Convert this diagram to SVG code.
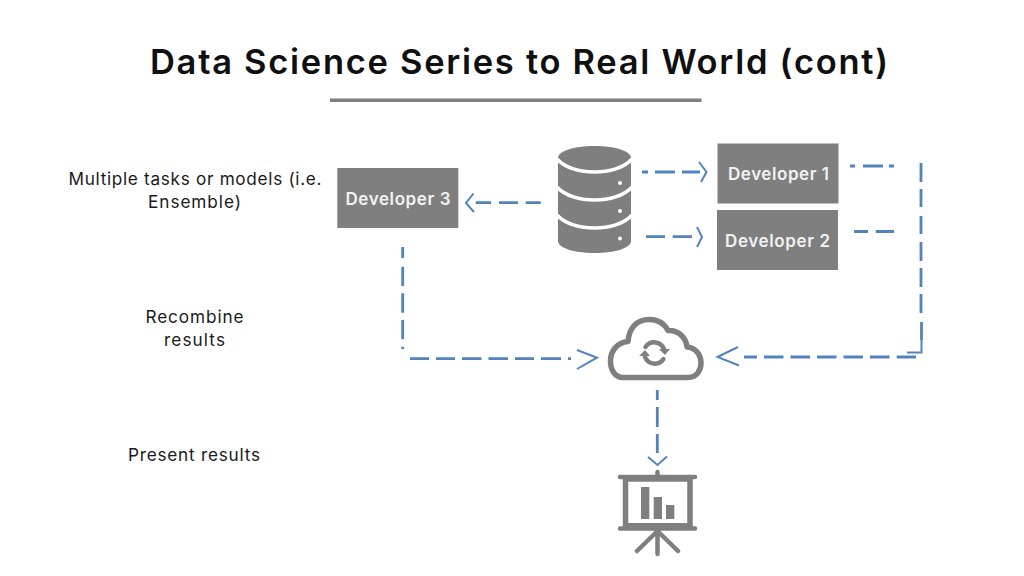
<svg xmlns="http://www.w3.org/2000/svg" width="1024" height="576" viewBox="0 0 1024 576">
<style>
text{font-family:Inter,"Noto Sans","Liberation Sans",sans-serif}
.t{font-size:34.500px;font-weight:600;fill:#101010}
.l{font-size:17.200px;fill:#1a1a1a;text-anchor:middle}
.d{font-size:17px;font-weight:600;fill:#f2f2f2;text-anchor:middle}
.box{fill:#7f7f7f}
.g{fill:#7f7f7f}
.o{fill:none;stroke:#7f7f7f;stroke-linecap:round;stroke-linejoin:round}
.c{fill:none;stroke:#5283bd;stroke-width:2.800}
.h{fill:none;stroke:#5283bd;stroke-width:2}
.w{fill:none;stroke:#fff;stroke-width:3.500}
</style>
<rect width="1024" height="576" fill="#fff"/>
<g id="title">
<text class="t" x="150" y="73.500" textLength="738" lengthAdjust="spacing">Data Science Series to Real World (cont)</text>
<rect x="330" y="98.500" width="371.500" height="3.500" class="g"/>
</g>
<g id="label-tasks">
<text class="l" x="195" y="185" textLength="253">Multiple tasks or models (i.e.</text>
<text class="l" x="194.500" y="208" textLength="93">Ensemble)</text>
</g>
<g id="label-recombine">
<text class="l" x="194.500" y="323" textLength="98">Recombine</text>
<text class="l" x="194.500" y="346" textLength="61">results</text>
</g>
<g id="label-present">
<text class="l" x="194" y="461" textLength="132">Present results</text>
</g>
<g id="developer-1">
<rect class="box" x="717.500" y="143.500" width="121" height="60"/>
<text class="d" x="778.500" y="180" textLength="101">Developer 1</text>
</g>
<g id="developer-2">
<rect class="box" x="717" y="210" width="121" height="60"/>
<text class="d" x="777.500" y="246.500" textLength="105">Developer 2</text>
</g>
<g id="developer-3">
<rect class="box" x="337.300" y="168" width="121" height="60"/>
<text class="d" x="398" y="204.500" textLength="105">Developer 3</text>
</g>
<g id="database">
<path class="g" d="M558 158C558 151 574 146 594.500 146S631 151 631 158V241C631 248 615 253 594.500 253S558 248 558 241Z"/>
<path class="w" d="M557 159C565 168 580 172 594.500 172S624 168 632 159"/>
<path class="w" d="M557 187C565 196 580 200 594.500 200S624 196 632 187"/>
<path class="w" d="M557 215C565 224 580 228 594.500 228S624 224 632 215"/>
<circle cx="620" cy="183" r="2" fill="#fff"/>
<circle cx="620" cy="211" r="2" fill="#fff"/>
<circle cx="620" cy="238.500" r="2" fill="#fff"/>
</g>
<g id="cloud">
<path class="o" stroke-width="5.500" d="M623 377.500H688C697 377.500 701 370 701 363C701 354 695 347.500 687 347C686 337 678 330 668 330.500C664 323 657 319.500 649 319.500C637 319.500 629 328 628 341.500C617 342.500 610.500 351 610.500 361C610.500 370 615 377.500 623 377.500Z"/>
<path class="o" stroke-width="4.500" stroke-linecap="butt" d="M645.500 347A10.500 10.500 0 0 1 664 349M663.500 359A10.500 10.500 0 0 1 645 357"/>
<path class="g" d="M659 349H670L665 355ZM639 356H650L645 350Z"/>
</g>
<g id="presentation">
<path class="o" stroke-width="4.500" d="M620 477H695M620 528.500H695M657.500 472V477M637 551L657.500 531L678 551M657.500 531V554"/>
<rect x="625.500" y="479" width="64.500" height="46.750" fill="none" stroke="#7f7f7f" stroke-width="5.500"/>
<rect class="g" x="641" y="487" width="8.300" height="32"/>
<rect class="g" x="653.700" y="497" width="8.300" height="22"/>
<rect class="g" x="666" y="505" width="8.300" height="14"/>
</g>
<g id="connectors">
<path class="c" d="M642 172H648M655 172H675M682 172H700"/>
<path class="h" d="M699 162L706.500 172L701 182"/>
<path class="c" d="M646 236.700H665M672.700 236.700H692"/>
<path class="h" d="M697 227L702 237L697 247"/>
<path class="c" d="M850 166H855M863 166H883M889 166H894"/>
<path class="c" d="M854 231.500H868M875.700 231.500H894"/>
<path class="c" d="M921 163V182M921 189V207M921 216V234M921 242V261M921 268V287M921 294V313M921.500 322V340"/>
<path class="h" stroke-width="1.500" d="M907 352.500H921.500V340"/>
<path class="c" d="M744 357H757M764 357H783.500M790.500 357H810M817 357H836.500M843.500 357H863M870 357H889.500M896.700 357H916"/>
<path class="h" stroke-width="2.500" d="M738 347L717.500 357L739 365.500"/>
<path class="c" d="M402.700 247V258M402.700 266.700V286M402.700 293.300V312.700M402.700 320V339.300M402.700 346.700V349"/>
<path class="c" d="M410 358.700H429M436 358.700H455M462 358.700H481.500M488.500 358.700H508M515 358.700H534M541 358.700H561M568 358.700H571"/>
<path class="h" stroke-width="2.500" d="M577 350L597 357.700L577 369"/>
<path class="c" d="M475.700 202.700H491M499 202.700H518M525.700 202.700H540.700"/>
<path class="h" d="M473.500 193.500L466 203L474 212"/>
<path class="c" d="M657.300 390V400M657.300 407V427M657.300 434V453"/>
<path class="h" d="M648 457L657.500 465L667 456.500"/>
</g>
</svg>
